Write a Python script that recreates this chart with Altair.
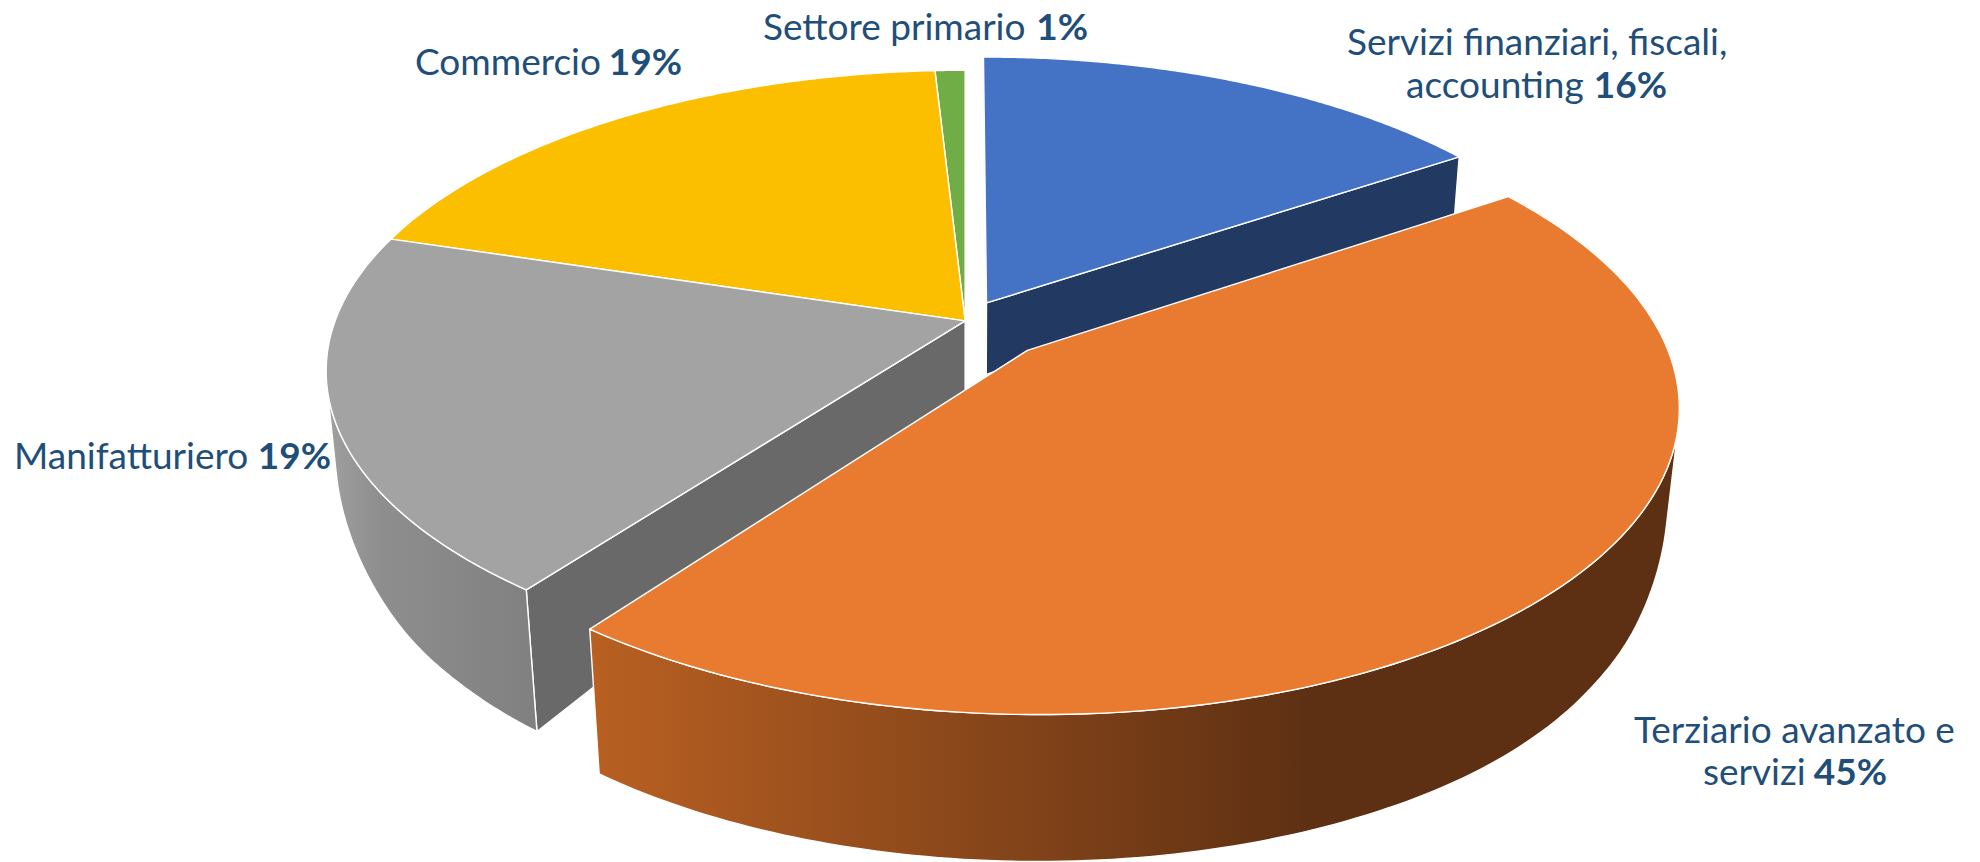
import numpy as np
import altair as alt

# ---- chart values (shares; the labels round them)
categories = ["Servizi finanziari, fiscali, accounting", "Terziario avanzato e servizi", "Manifatturiero", "Commercio", "Settore primario"]
shares = [15.61, 44.71, 19.42, 19.37, 0.89]
top_colors = ["#4472C4", "#E97B30", "#A3A3A3", "#FBBF00", "#70AD47"]

label_regular = ["Settore primario ", "Commercio ", "Servizi finanziari, fiscali,", "accounting ", "Manifatturiero ", "Terziario avanzato e", "servizi "]
label_bold = ["1%", "19%", "", "16%", "19%", "", "45%"]
label_left = [763, 415, 1347, 1406, 14, 1634, 1703]
label_right = [1088, 682, 1726, 1667, 331, 1957, 1887]
label_base = [40, 75, 55, 98, 469, 743, 785]

# ---- view of the tilted disc
CX, CY, SCALE, DIST, TILT = 965.13, 320.9, 629.97, 5.305, 0.4828
EXPLODE = {0: (0.0343, -0.0623), 1: (0.0972, 0.0991)}
VANISH_Y = 6400
DEPTH_Y = [0, 157, 310, 400, 463, 510, 580, 629, 715, 900]
DEPTH_V = [45, 57, 72, 92, 114, 130, 141, 145, 147, 150]

_grid = np.arange(0.0, 901.0)
_raw = np.interp(_grid, DEPTH_Y, DEPTH_V)
_win = 41
_smooth = np.convolve(np.pad(_raw, _win // 2, mode="edge"), np.ones(_win) / _win, mode="valid")

cum = np.radians(np.cumsum([0] + shares) * 3.6)

def project(x, y):
    k = SCALE * DIST / (DIST - y * np.cos(TILT))
    return CX + x * k, CY + y * np.sin(TILT) * k

def top_rim(i, a0=None, a1=None, n=120):
    a0 = cum[i] if a0 is None else a0
    a1 = cum[i + 1] if a1 is None else a1
    th = np.linspace(a0, a1, n)
    ox, oy = EXPLODE.get(i, (0.0, 0.0))
    return np.column_stack(project(ox + np.sin(th), oy - np.cos(th)))

def drop(pts):
    pts = np.atleast_2d(pts)
    d = np.interp(pts[:, 1], _grid, _smooth)
    return np.column_stack([pts[:, 0] + (CX - pts[:, 0]) * d / (VANISH_Y - pts[:, 1]), pts[:, 1] + d])

def apex(i):
    ox, oy = EXPLODE.get(i, (0.0, 0.0))
    return np.array(project(ox, oy))

def silhouette(i):
    th = np.linspace(cum[i], cum[i + 1], 1441)
    T = top_rim(i, n=1441)
    B = drop(T)
    G = np.gradient(T, axis=0)
    D_ = B - T
    c = G[:, 0] * D_[:, 1] - G[:, 1] * D_[:, 0]
    idx = np.where(np.sign(c[1:]) != np.sign(c[:-1]))[0]
    return th[idx]

def feature(pts):
    ring = [[float(a), float(b)] for a, b in pts]
    ring.append(ring[0])
    return {"type": "Feature", "properties": {}, "geometry": {"type": "Polygon", "coordinates": [ring]}}

PROJ = dict(type="identity", scale=1, translate=[-8, -8])

def shape(pts, fill, sw=1.4, stroke="#FFFFFF"):
    return alt.Chart(alt.Data(values=[feature(pts)])).mark_geoshape(
        fill=fill, stroke=stroke, strokeWidth=sw, strokeJoin="round").project(**PROJ)

def grad(stops):
    return alt.LinearGradient(gradient="linear", x1=0, x2=1, y1=0, y2=0,
                              stops=[alt.GradientStop(offset=o, color=c) for o, c in stops])

def top(i):
    return shape(np.vstack([apex(i), top_rim(i)]), top_colors[i])

def radial(i, end, fill):
    rim = top_rim(i)
    p = rim[-1] if end else rim[0]
    return shape(np.vstack([apex(i), p, drop(p), drop(apex(i))]), fill)

def wall(i, a0, a1, fill):
    t_ = top_rim(i, a0, a1)
    return shape(np.vstack([t_, drop(t_)[::-1]]), fill)

sg = silhouette(2)
so = silhouette(1)

layers = [radial(0, False, "#223962"), radial(0, True, "#223962"), top(0)]
layers += [radial(2, False, "#696969"),
           wall(2, cum[2], sg[-1] if sg.size else cum[3],
                grad([(0, "#A0A0A0"), (0.25, "#8E8E8E"), (1, "#808080")]))]
layers += [top(4), top(3), top(2)]
layers += [wall(1, so[0] if so.size else cum[1], cum[2],
                grad([(0, "#B96022"), (0.66, "#5E3013"), (1, "#5E3013")])), top(1)]

rows = [dict(r=r, b=b, l=l, rt=rt, y=y) for r, b, l, rt, y in zip(label_regular, label_bold, label_left, label_right, label_base)]
base = alt.Chart(alt.Data(values=rows))
xs = alt.Scale(domain=[8, 1972], nice=False, zero=False)
ys = alt.Scale(domain=[862, 8], nice=False, zero=False)
tx = dict(font="Lato", fontSize=37, color="#1F4E79", baseline="alphabetic")
reg = base.mark_text(align="left", **tx).encode(
    x=alt.X("l:Q", scale=xs, axis=None), y=alt.Y("y:Q", scale=ys, axis=None), text="r:N")
bold = base.mark_text(align="right", fontWeight="bold", **tx).encode(
    x=alt.X("rt:Q", scale=xs, axis=None), y=alt.Y("y:Q", scale=ys, axis=None), text="b:N")

chart = alt.layer(*layers, reg, bold).properties(
    width=1964, height=854, padding=0, background="white",
    autosize=alt.AutoSizeParams(type="none")
).configure_view(strokeWidth=0)
chart.save("out.html", embed_options={"renderer": "svg", "actions": False})
